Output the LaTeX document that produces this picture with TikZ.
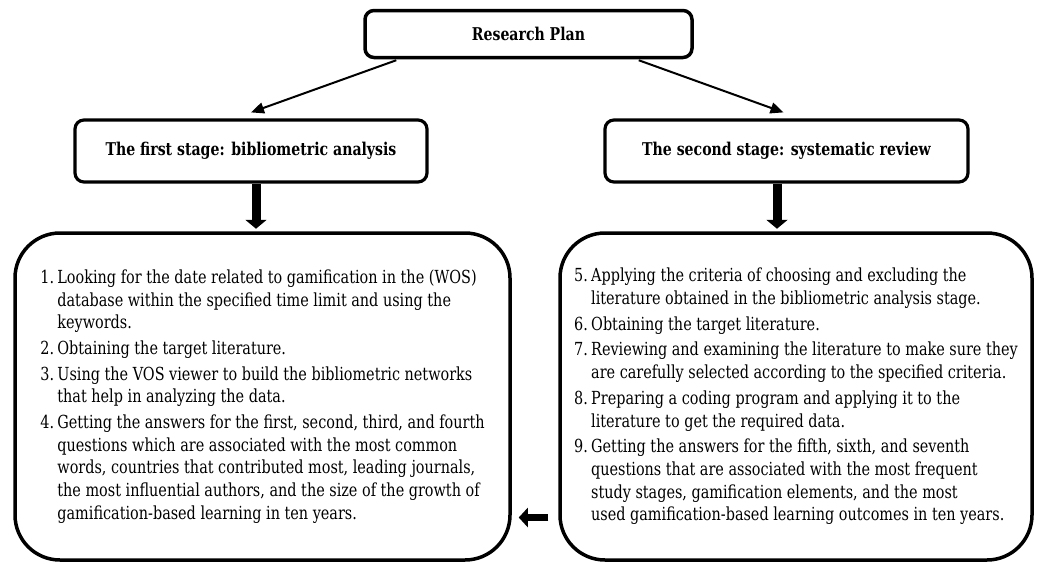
\documentclass[tikz,border=0pt]{standalone}
\usepackage{fontspec}
\setmainfont{DejaVu Serif Condensed}[FakeStretch=0.89]
\usetikzlibrary{arrows.meta}

% hanging indent for the numbered steps
\newlength\numw
\setlength\numw{17pt}
\newcommand\stepno[1]{\makebox[\numw][l]{#1}}
\newcommand\cont{\hspace*{\numw}}

\begin{document}
\begin{tikzpicture}[x=1pt,y=-1pt,
  every node/.style={inner sep=0pt},
  planbox/.style={draw, line width=3.5pt, rounded corners=9pt,
    font=\fontsize{17.6}{20}\selectfont\bfseries},
  stagebox/.style={draw, line width=3.2pt, rounded corners=9pt,
    font=\fontsize{17.6}{20}\selectfont\bfseries},
  listbox/.style={draw, line width=3.5pt, rounded corners=45pt, align=left,
    font=\fontsize{18}{22.7}\selectfont},
  thinarrow/.style={line width=2pt, -{Triangle[length=13pt,width=11pt]}},
  fatarrow/.style={line width=9pt, -{Triangle[length=9pt,width=21pt]}},
  sidearrow/.style={line width=7pt, -{Triangle[length=9pt,width=19pt]}},
]
\useasboundingbox (0,0) rectangle (1042,563);

% top box
\node[planbox, minimum width=327pt, minimum height=47pt] (plan) at (528.5,34) {Research Plan};

% stage boxes
\node[stagebox, minimum width=352pt, minimum height=62pt] (s1) at (251,151)
  {The first stage: bibliometric analysis};
\node[stagebox, minimum width=363pt, minimum height=62pt] (s2) at (786.5,151)
  {The second stage: systematic review};

% step lists
\node[listbox, minimum width=495pt, minimum height=327pt] (l1) at (262.5,396.5) {%
  \stepno{1.}Looking for the date related to gamification in the (WOS)\\
  \cont database within the specified time limit and using the\\
  \cont keywords.\\[3pt]
  \stepno{2.}Obtaining the target literature.\\[3pt]
  \stepno{3.}Using the VOS viewer to build the bibliometric networks\\
  \cont that help in analyzing the data.\\[3pt]
  \stepno{4.}Getting the answers for the first, second, third, and fourth\\
  \cont questions which are associated with the most common\\
  \cont words, countries that contributed most, leading journals,\\
  \cont the most influential authors, and the size of the growth of\\
  \cont gamification-based learning in ten years.};

\node[listbox, minimum width=472pt, minimum height=327pt] (r1) at (796,396.5) {%
  \stepno{5.}Applying the criteria of choosing and excluding the\\
  \cont literature obtained in the bibliometric analysis stage.\\[3pt]
  \stepno{6.}Obtaining the target literature.\\[3pt]
  \stepno{7.}Reviewing and examining the literature to make sure they\\
  \cont are carefully selected according to the specified criteria.\\[3pt]
  \stepno{8.}Preparing a coding program and applying it to the\\
  \cont literature to get the required data.\\[3pt]
  \stepno{9.}Getting the answers for the fifth, sixth, and seventh\\
  \cont questions that are associated with the most frequent\\
  \cont study stages, gamification elements, and the most\\
  \cont used gamification-based learning outcomes in ten years.};

% connectors
\draw[thinarrow] ([xshift=33pt,yshift=-1pt]plan.south west) -- ([yshift=6pt]s1.north);
\draw[thinarrow] ([xshift=-55pt,yshift=-1pt]plan.south east) -- ([xshift=-3pt,yshift=6pt]s2.north);
\draw[fatarrow] ([xshift=5pt]s1.south) -- ([xshift=5pt,yshift=2.5pt]s1.south |- l1.north);
\draw[fatarrow] ([xshift=-9.5pt]s2.south) -- ([xshift=-9.5pt,yshift=2.5pt]s2.south |- r1.north);
\draw[sidearrow] ([xshift=-10pt,yshift=-121pt]r1.west) -- ([xshift=7pt,yshift=-121pt]l1.east);
\end{tikzpicture}
\end{document}
